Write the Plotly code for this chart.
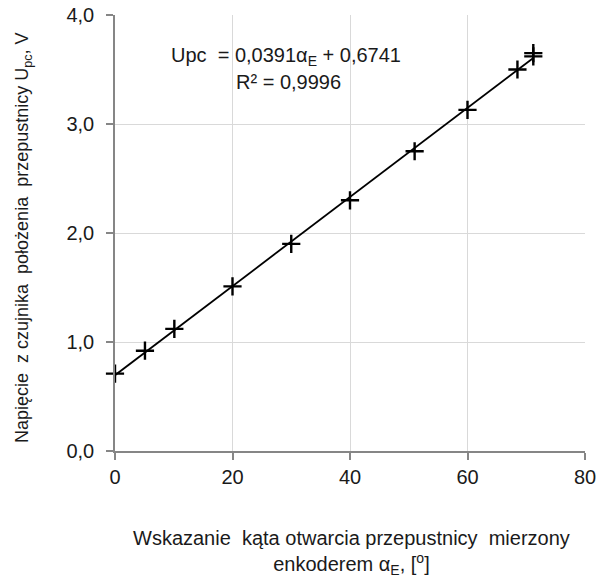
import plotly.graph_objects as go
import numpy as np

# data
alpha_e = [0, 5.1, 10.1, 20.0, 30.0, 40.0, 51.0, 60.0, 68.5, 71.2, 71.2]
u_pc = [0.71, 0.92, 1.12, 1.51, 1.90, 2.30, 2.75, 3.13, 3.50, 3.62, 3.65]
eq_text = "Upc\u00a0 = 0,0391α<sub>E</sub> + 0,6741"
r2_text = "R² = 0,9996"
x_title = ("Wskazanie\u00a0 kąta otwarcia przepustnicy\u00a0 mierzony<br>"
           "enkoderem α<sub>E</sub>, [<sup>o</sup>]")
y_title = ("Napięcie\u00a0 z czujnika\u00a0 położenia\u00a0 "
           "przepustnicy U<sub>pc</sub>, V")
x_ticks = [0, 20, 40, 60, 80]
y_ticks = [0, 1, 2, 3, 4]

FONT = "Liberation Sans, Arial, sans-serif"
GRID = "#d9d9d9"
AXIS = "#868686"
TXT = "#1a1a1a"

# linear trendline fitted to the plotted points
slope, intercept = np.polyfit(alpha_e, u_pc, 1)
tx = np.array([min(alpha_e), max(alpha_e)])
ty = slope * tx + intercept

fig = go.Figure()
fig.add_trace(go.Scatter(x=tx, y=ty, mode="lines",
                         line=dict(color="black", width=1.8),
                         showlegend=False, hoverinfo="skip"))
fig.add_trace(go.Scatter(x=alpha_e, y=u_pc, mode="markers", cliponaxis=False,
                         marker=dict(symbol="cross-thin", size=13,
                                     line=dict(color="black", width=2.4)),
                         showlegend=False))

# plot area in pixels: x 115..585, y 15..451
def px_to_paper(px, py):
    return (px - 115) / 470, (451 - py) / 436

texts = [
    (eq_text, 286, 57, 20, 0),
    (r2_text, 288, 82, 20, 0),
    (x_title, 351, 552, 20, 0),
    (y_title, 23, 238, 18, -90),
]
for txt, px, py, size, ang in texts:
    xp, yp = px_to_paper(px, py)
    fig.add_annotation(x=xp, y=yp, xref="paper", yref="paper", text=txt,
                       showarrow=False, xanchor="center", yanchor="middle",
                       textangle=ang, align="center",
                       font=dict(family=FONT, size=size, color=TXT))

fig.update_layout(
    width=606, height=578,
    margin=dict(l=115, r=21, t=15, b=127),
    paper_bgcolor="white", plot_bgcolor="white",
    separators=",.",
    font=dict(family=FONT, size=20, color=TXT),
    xaxis=dict(
        range=[0, 80], tickvals=x_ticks, showgrid=True, gridcolor=GRID, gridwidth=1,
        showline=True, linecolor=AXIS, linewidth=1.5,
        ticks="outside", ticklen=7, tickcolor=AXIS, tickwidth=1.5,
        zeroline=False, tickfont=dict(size=20), automargin=False,
    ),
    yaxis=dict(
        range=[0, 4], tickvals=y_ticks, tickformat=".1f", showgrid=True,
        gridcolor=GRID, gridwidth=1,
        showline=True, linecolor=AXIS, linewidth=1.5,
        ticks="outside", ticklen=7, tickcolor=AXIS, tickwidth=1.5,
        ticklabelstandoff=8,
        zeroline=False, tickfont=dict(size=20), automargin=False,
    ),
)

fig.write_html("out.html")
